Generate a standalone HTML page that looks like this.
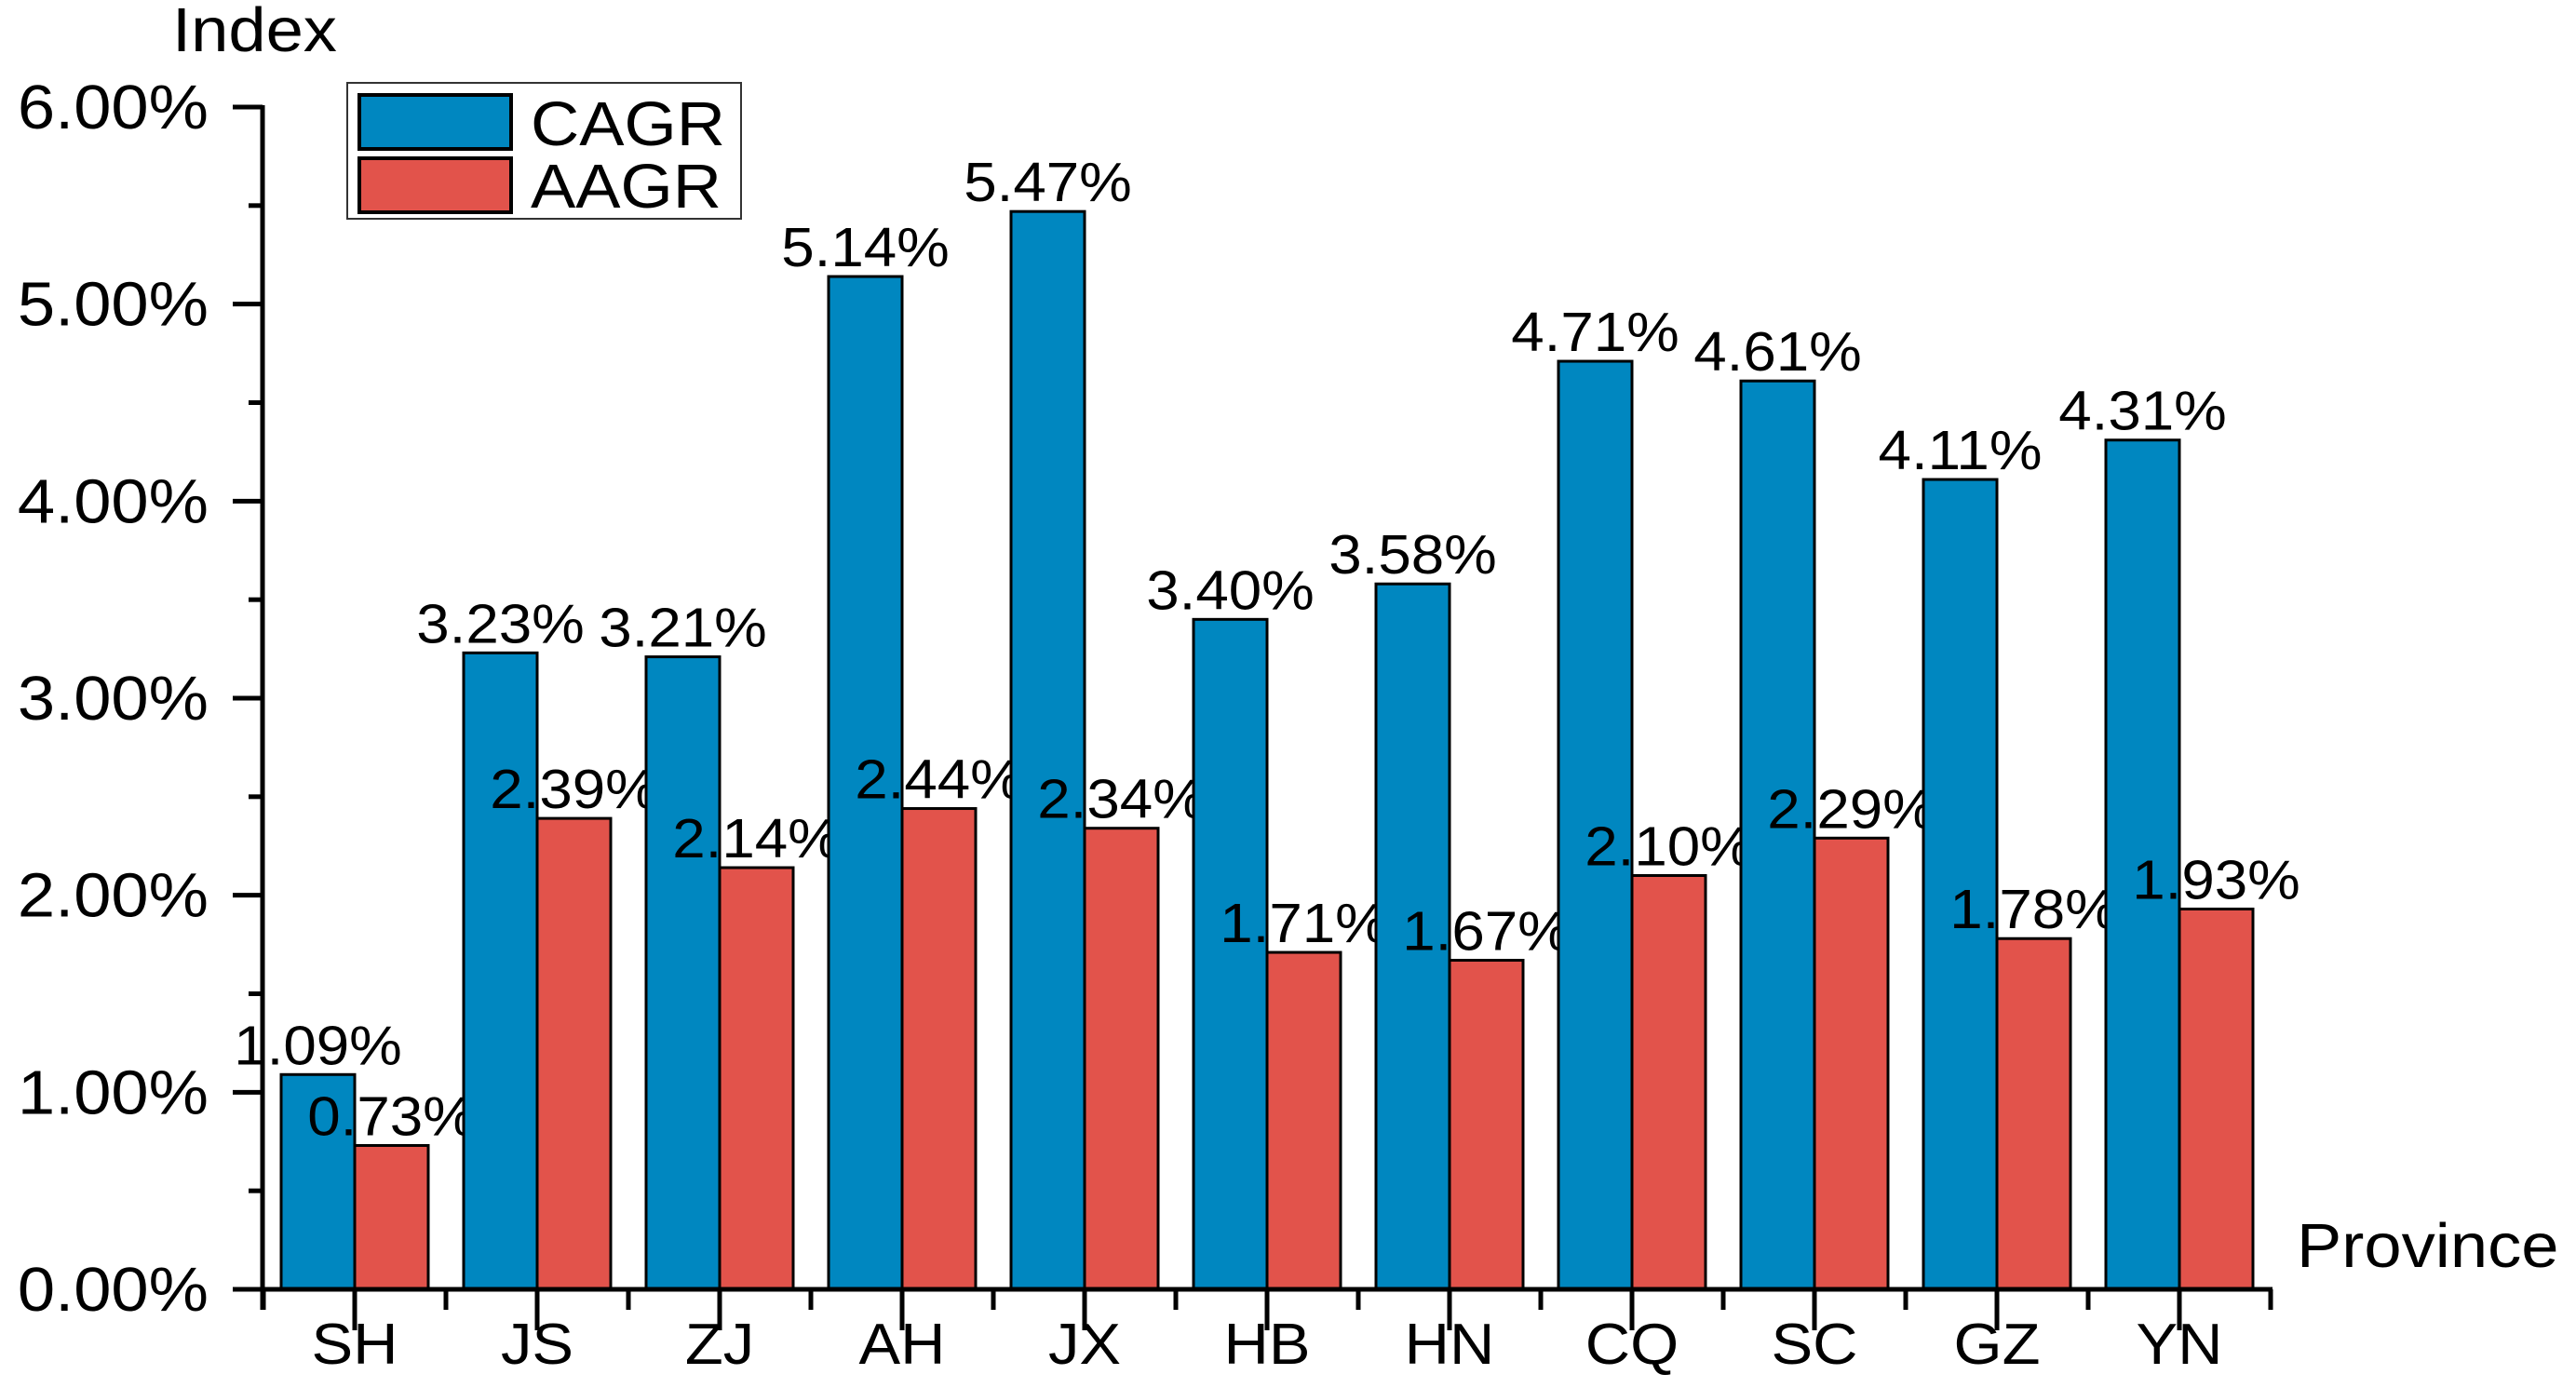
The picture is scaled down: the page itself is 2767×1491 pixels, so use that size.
<!DOCTYPE html>
<html><head><meta charset="utf-8"><style>
html,body{margin:0;padding:0;background:#fff;}
svg{display:block;font-family:"Liberation Sans",sans-serif;}
</style></head><body>
<svg id="chart" width="2767" height="1491" viewBox="0 0 2767 1491" xmlns="http://www.w3.org/2000/svg"></svg>
<script>
const categories = ["SH","JS","ZJ","AH","JX","HB","HN","CQ","SC","GZ","YN"];
const cagr = [1.09,3.23,3.21,5.14,5.47,3.40,3.58,4.71,4.61,4.11,4.31];
const aagr = [0.73,2.39,2.14,2.44,2.34,1.71,1.67,2.10,2.29,1.78,1.93];
const yTicks = [0,1,2,3,4,5,6];
const yTickLabels = ["0.00%","1.00%","2.00%","3.00%","4.00%","5.00%","6.00%"];

const NS = "http://www.w3.org/2000/svg";
const svg = document.getElementById("chart");
const x0 = 282, y0 = 1385, pxPerUnit = (1385-115)/6, step = 196, firstC = 381, barW = 79;
const SX = 1.08;
function yS(v){ return y0 - v*pxPerUnit; }
function xS(i){ return firstC + i*step; }
function mk(tag, attrs){ const e=document.createElementNS(NS,tag); for(const k in attrs) e.setAttribute(k,attrs[k]); svg.appendChild(e); return e; }
function txt(s, x, y, size, anchor){
  const t=document.createElementNS(NS,"text");
  t.setAttribute("transform","translate("+x+","+y+") scale("+SX+",1)");
  t.setAttribute("font-size",size);
  t.setAttribute("text-anchor",anchor||"start");
  t.setAttribute("fill","#000");
  t.textContent=s; svg.appendChild(t); return t;
}

categories.forEach((c,i)=>{
  const cx=xS(i);
  const b1=mk("rect",{x:cx-barW,y:yS(cagr[i]),width:barW,height:y0-yS(cagr[i]),fill:"#0087C0",stroke:"#000","stroke-width":3});
  
  
  const b2=mk("rect",{x:cx,y:yS(aagr[i]),width:barW,height:y0-yS(aagr[i]),fill:"#E2534B",stroke:"#000","stroke-width":3});
  
  
  const l1=txt(cagr[i].toFixed(2)+"%", cx-barW/2, yS(cagr[i])-11, 59, "middle");
  
  
  const l2=txt(aagr[i].toFixed(2)+"%", cx+barW/2, yS(aagr[i])-11, 59, "middle");
  
  
  const cl=txt(c, cx, 1465, 62, "middle");
  
  
  const tk=mk("line",{x1:cx,y1:y0,x2:cx,y2:y0+44,stroke:"#000","stroke-width":5});
  
  
});
for(let i=0;i<=categories.length;i++){
  const xx=xS(i)-step/2;
  const m=mk("line",{x1:xx,y1:y0,x2:xx,y2:y0+22,stroke:"#000","stroke-width":5});
  
  
}
yTicks.forEach((v,i)=>{
  const t=mk("line",{x1:x0-32,y1:yS(v),x2:x0,y2:yS(v),stroke:"#000","stroke-width":5});
  
  
  const l=txt(yTickLabels[i], 224, yS(v)+23, 67, "end");
  
  
  if(i<yTicks.length-1){
    const m=mk("line",{x1:x0-15,y1:yS(v+0.5),x2:x0,y2:yS(v+0.5),stroke:"#000","stroke-width":5});
    
    
  }
});
const ya=mk("line",{x1:x0,y1:yS(6)-2,x2:x0,y2:y0+22,stroke:"#000","stroke-width":5});


const xa=mk("line",{x1:x0-32,y1:y0,x2:xS(categories.length)-step/2+2,y2:y0,stroke:"#000","stroke-width":5});


</script>
<script>
(function(){
const NS="http://www.w3.org/2000/svg", svg=document.getElementById("chart");
function txt(s,x,y,size){const t=document.createElementNS(NS,"text");t.setAttribute("transform","translate("+x+","+y+") scale(1.08,1)");t.setAttribute("font-size",size);t.setAttribute("fill","#000");t.textContent=s;svg.appendChild(t);return t;}
function rect(a){const r=document.createElementNS(NS,"rect");for(const k in a)r.setAttribute(k,a[k]);svg.appendChild(r);return r;}
const yt=txt("Index",185,55,67);


const xt=txt("Province",2467,1361,67);


const lb=rect({x:373,y:89,width:423,height:146,fill:"#fff",stroke:"#333","stroke-width":2});


const s1=rect({x:386,y:102,width:163,height:58,fill:"#0087C0",stroke:"#000","stroke-width":4});


const s2=rect({x:386,y:170,width:163,height:58,fill:"#E2534B",stroke:"#000","stroke-width":4});


const t1=txt("CAGR",570,156,67);


const t2=txt("AAGR",570,223,67);


})();
</script>
</body></html>
